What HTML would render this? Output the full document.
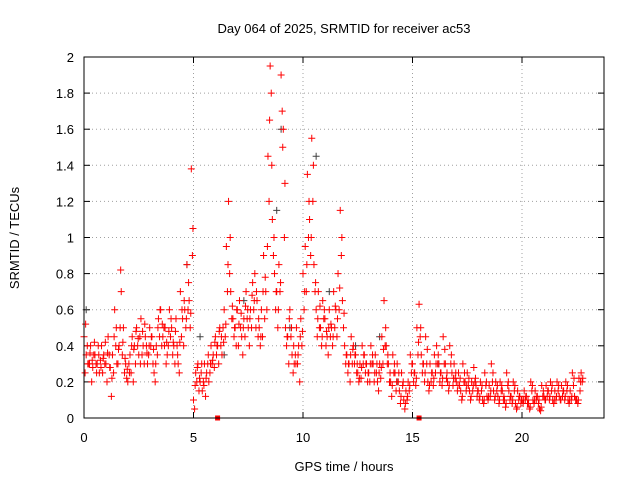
<!DOCTYPE html>
<html><head><meta charset="utf-8"><style>
body{margin:0;background:#fff}
svg text{font-family:"Liberation Sans",sans-serif;font-size:13px;fill:#000}
</style></head><body>
<svg id="c" width="640" height="480">
<g id="grid"></g>
<g id="ticks"></g>
<g id="pts"></g>
<rect x="84" y="57" width="520" height="361" fill="none" stroke="#000"/>
<text x="344" y="33" text-anchor="middle">Day 064 of 2025, SRMTID for receiver ac53</text>
<text x="344" y="471" text-anchor="middle">GPS time / hours</text>
<text transform="translate(19,238) rotate(-90)" text-anchor="middle">SRMTID / TECUs</text>
</svg>
<script>
const xTicks=[0,5,10,15,20];
const yTicks=[0,0.2,0.4,0.6,0.8,1,1.2,1.4,1.6,1.8,2];
const yTickLabels=["0","0.2","0.4","0.6","0.8","1","1.2","1.4","1.6","1.8","2"];
const redA=[.45,.35,.3,.4,.28,.35,.3,.25,.4,.35,
.3,.45,.28,.35,.6,.3,.4,.7,.5,.3,
.2,.35,.45,.4,.5,.35,.55,.4,.45,.3,
.5,.45,.25,.4,.55,.6,.45,.5,.35,.6,
.5,.4,.55,.3,.7,.55,.6,.85,.65,1.38,
.1,.25,.3,.2,.15,.3,.25,.2,.4,.35,
.45,.4,.5,.35,.6,.95,1.2,.7,.55,.5,
.6,.65,.45,.55,.7,.5,.6,.75,.8,.65,
.5,.6,.9,.7,1.45,1.95,1.1,.8,.7,.85,
1.9,1.6,.5,.45,.6,.35,.3,.5,.4,.55,
.8,.95,1.35,1.1,1.55,.85,.6,.7,.5,.65,
.55,.45,.6,.5,.7,.6,.8,1.15,.65,.4,
.35,.3,.45,.4,.35,.25,.3,.4,.35,.3,
.25,.4,.3,.35,.2,.3,.45,.65,.4,.3,
.2,.35,.25,.3,.15,.25,.1,.15,.2,.35,
.3,.25,.5,.63,.35,.3,.45,.2,.3,.25,
.35,.4,.3,.25,.45,.3,.2,.4,.25,.3,
.2,.25,.15,.3,.2,.25,.15,.2,.28,.18,
.15,.2,.1,.25,.12,.18,.3,.15,.2,.12,
.2,.15,.1,.25,.15,.12,.2,.08,.15,.12,
.1,.15,.12,.08,.2,.1,.15,.12,.05,.18,
.12,.18,.15,.2,.1,.15,.2,.12,.18,.15,
.2,.1,.15,.25,.12,.1,.22,.25];
const redB=[.25,.4,.3,.2,.35,.3,.4,.32,.25,.3,
.2,.35,.12,.25,.4,.3,.5,.35,.25,.22,
.3,.25,.2,.3,.4,.45,.35,.3,.4,.35,
.4,.3,.2,.35,.45,.4,.5,.3,.4,.45,
.35,.3,.4,.25,.45,.4,.5,.6,.5,.9,
.05,.2,.15,.25,.2,.12,.3,.25,.3,.28,
.35,.3,.4,.5,.45,.7,.8,.55,.45,.4,
.4,.5,.35,.45,.55,.4,.5,.6,.5,.45,
.4,.45,.55,.6,1.2,1.8,.9,.6,.5,.7,
1.7,1.0,.4,.3,.45,.25,.35,.3,.2,.4,
.6,.7,1.0,.9,1.2,.7,.45,.5,.4,.55,
.4,.35,.45,.4,.5,.45,.6,.9,.5,.3,
.25,.2,.3,.3,.25,.2,.22,.3,.25,.2,
.2,.3,.2,.25,.15,.22,.3,.4,.3,.2,
.12,.25,.15,.2,.08,.18,.05,.1,.15,.25,
.2,.18,.35,.45,.25,.2,.3,.15,.2,.18,
.25,.3,.2,.18,.3,.22,.15,.3,.18,.22,
.15,.18,.1,.2,.15,.18,.1,.15,.2,.12,
.1,.15,.08,.18,.1,.12,.2,.1,.15,.08,
.15,.1,.06,.18,.1,.08,.15,.05,.1,.08,
.08,.1,.08,.05,.15,.08,.1,.08,.04,.12,
.1,.12,.1,.15,.08,.1,.15,.1,.12,.1,
.15,.08,.1,.18,.1,.08,.15,.2];
const redC=[.52,.3,.36,.32,.42,.25,.35,.28,.33,.42,
.36,.28,.22,.45,.5,.38,.82,.42,.33,.27,
.25,.4,.38,.48,.44,.3,.48,.52,.36,.4,
.45,.38,.3,.5,.6,.52,.4,.42,.48,.55,
.42,.48,.35,.42,.6,.65,.55,.75,.58,1.05,
.18,.28,.22,.3,.18,.22,.35,.3,.32,.42,
.4,.48,.45,.42,.52,.85,1.0,.62,.5,.6,
.52,.58,.5,.62,.6,.55,.68,.65,.7,.55,
.45,.7,.78,.95,1.65,1.4,1.0,.7,.6,.75,
1.5,1.3,.45,.55,.5,.4,.3,.35,.45,.48,
.7,.85,1.2,1.0,1.4,.75,.55,.62,.45,.6,
.48,.5,.52,.45,.62,.55,.72,1.0,.58,.35,
.3,.35,.38,.35,.3,.22,.28,.35,.3,.25,
.3,.35,.25,.3,.25,.28,.38,.5,.35,.25,
.18,.3,.2,.25,.12,.2,.08,.12,.18,.3,
.25,.22,.42,.5,.3,.25,.38,.18,.25,.22,
.3,.35,.25,.22,.38,.25,.18,.35,.22,.25,
.18,.22,.12,.25,.18,.22,.12,.18,.22,.15,
.12,.18,.1,.2,.12,.15,.25,.12,.18,.1,
.18,.12,.08,.2,.12,.1,.18,.06,.12,.1,
.1,.12,.1,.06,.18,.1,.12,.1,.06,.15,
.1,.15,.12,.18,.1,.12,.18,.1,.15,.12,
.18,.1,.12,.22,.1,.1,.2,.22];
const grayT=[0.1,4.7,5.3,6.4,7.3,8.8,9.0,9.4,10.6,11.2,12.4,13.5,14.3,16.2];
const grayV=[0.6,0.85,0.45,0.35,0.65,1.15,1.6,0.5,1.45,0.7,0.4,0.45,0.2,0.3];
const squareT=[6.1,15.3];
const X=t=>84+t*21.9, Y=v=>418-v*180.5;
const NS="http://www.w3.org/2000/svg";
function mk(tag,attrs,parent){const e=document.createElementNS(NS,tag);for(const k in attrs)e.setAttribute(k,attrs[k]);parent.appendChild(e);return e;}
const g=document.getElementById('grid'),tk=document.getElementById('ticks'),p=document.getElementById('pts');
yTicks.forEach((v,i)=>{const y=Y(v);
 if(i>0&&i<yTicks.length-1){const l=mk('line',{x1:84,x2:604,y1:y,y2:y,stroke:'#a0a0a0','stroke-dasharray':'1,3'},g);
 
 }
 mk('line',{x1:84,x2:90,y1:y,y2:y,stroke:'#000'},tk);mk('line',{x1:598,x2:604,y1:y,y2:y,stroke:'#000'},tk);
 const t=mk('text',{x:74,y:y+5,'text-anchor':'end'},tk);t.textContent=yTickLabels[i];
 
 });
xTicks.forEach(v=>{const x=X(v);
 if(v>0){const l=mk('line',{x1:x,x2:x,y1:57,y2:418,stroke:'#a0a0a0','stroke-dasharray':'1,3'},g);
 
 }
 mk('line',{x1:x,x2:x,y1:418,y2:412,stroke:'#000'},tk);mk('line',{x1:x,x2:x,y1:57,y2:63,stroke:'#000'},tk);
 const t=mk('text',{x:x,y:442,'text-anchor':'middle'},tk);t.textContent=v;
 
 });
function plus(x,y,c,name){const e=mk('path',{d:`M${x-3.5},${y}h7M${x},${y-3.5}v7`,stroke:c,'stroke-width':1,fill:'none'},p);
 
 }
grayT.forEach((t,i)=>plus(X(t),Y(grayV[i]),'#404040','gray-point'));
redA.forEach((v,i)=>plus(X(i*0.1),Y(v),'#ff0000','red-point'));
redB.forEach((v,i)=>plus(X(i*0.1+0.05),Y(v),'#ff0000','red-point'));
redC.forEach((v,i)=>plus(X(i*0.1+0.075),Y(v),'#ff0000','red-point'));
squareT.forEach(t=>{const r=mk('rect',{x:X(t)-2.5,y:415.5,width:5,height:5,fill:'#ff0000'},p);
 
 });
</script>
</body></html>
